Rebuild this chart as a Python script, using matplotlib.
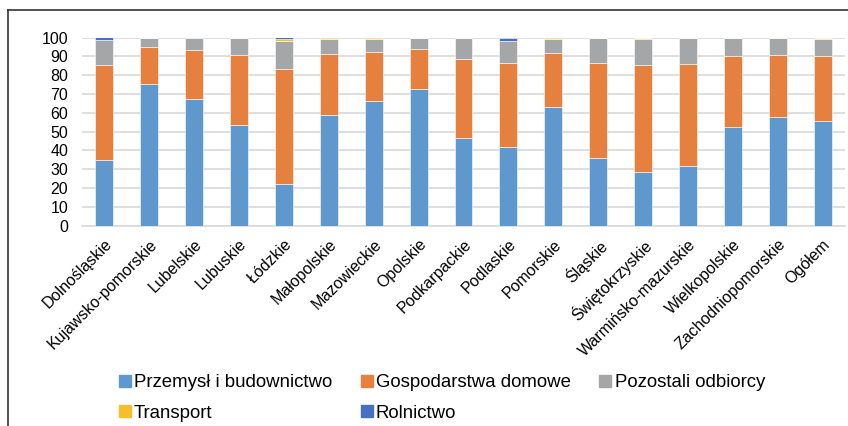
import matplotlib
matplotlib.use("Agg")
import matplotlib.pyplot as plt
import numpy as np
from matplotlib.lines import Line2D

# województwa + ogółem
regions = ["Dolnośląskie", "Kujawsko-pomorskie", "Lubelskie", "Lubuskie", "Łódzkie",
           "Małopolskie", "Mazowieckie", "Opolskie", "Podkarpackie", "Podlaskie",
           "Pomorskie", "Śląskie", "Świętokrzyskie", "Warmińsko-mazurskie",
           "Wielkopolskie", "Zachodniopomorskie", "Ogółem"]

# udziały [%]
przemysl = [34.7, 75.1, 67.1, 53.2, 22.1, 58.7, 66.0, 72.6, 46.8, 41.8, 62.8, 36.1, 28.5, 31.9, 52.5, 57.7, 55.8]
gospodarstwa = [50.7, 19.6, 26.1, 37.4, 61.0, 32.4, 26.5, 21.5, 41.8, 44.9, 29.0, 50.6, 56.7, 54.2, 37.4, 33.1, 34.3]
pozostali = [13.2, 4.9, 6.8, 9.4, 15.3, 8.0, 6.6, 5.5, 10.9, 11.2, 7.3, 12.8, 14.1, 13.5, 9.6, 8.7, 9.2]
transport = [0.3, 0.4, 0.0, 0.0, 0.6, 0.9, 0.9, 0.4, 0.0, 0.4, 0.9, 0.5, 0.7, 0.4, 0.5, 0.5, 0.7]
rolnictwo = [1.1, 0.0, 0.0, 0.0, 1.0, 0.0, 0.0, 0.0, 0.5, 1.7, 0.0, 0.0, 0.0, 0.0, 0.0, 0.0, 0.0]

series = [
    ("Przemysł i budownictwo", przemysl, "#5F98CC"),
    ("Gospodarstwa domowe", gospodarstwa, "#E6803F"),
    ("Pozostali odbiorcy", pozostali, "#A5A6A8"),
    ("Transport", transport, "#F5BE2A"),
    ("Rolnictwo", rolnictwo, "#4471C2"),
]

plt.rcParams["font.family"] = ["Liberation Sans", "DejaVu Sans"]

fig = plt.figure(figsize=(8.48, 4.26), dpi=100)
ax = fig.add_axes([82 / 848, 1 - 225.5 / 426, 763 / 848, 188 / 426])

x = np.arange(len(regions))
bottom = np.zeros(len(regions))
handles = []
for name, vals, col in series:
    vals = np.array(vals)
    ax.bar(x, vals, width=0.4, bottom=bottom, color=col, edgecolor="white",
           linewidth=0.4, zorder=3)
    bottom += vals
    handles.append(Line2D([], [], marker="s", linestyle="none", markersize=8,
                          markerfacecolor=col, markeredgecolor=col, label=name))

ax.set_xlim(-0.5, len(regions) - 0.5)
ax.set_ylim(0, 100)
ax.set_yticks(np.arange(0, 101, 10))
ax.yaxis.grid(True, color="#D9D9D9", linewidth=1.2, zorder=0)
ax.set_axisbelow(True)
for s in ["top", "right", "left"]:
    ax.spines[s].set_visible(False)
ax.spines["bottom"].set_color("#D9D9D9")
ax.spines["bottom"].set_linewidth(1.2)
ax.tick_params(axis="both", length=0, labelsize=11.5, colors="#000000")
ax.tick_params(axis="y", pad=10)
ax.set_xticks(x)
ax.set_xticklabels(regions, rotation=45, ha="right", rotation_mode="anchor")
ax.tick_params(axis="x", pad=8)

# kolejność tak, by wiersze szły jak w oryginale
order = [0, 3, 1, 4, 2]
fig.legend([handles[i] for i in order], [handles[i].get_label() for i in order],
           ncol=3, loc="center", bbox_to_anchor=(441 / 848, 1 - 398 / 426),
           frameon=False, fontsize=13.4, handletextpad=0.1, columnspacing=1.45,
           labelspacing=0.7, handlelength=0.8, borderaxespad=0)

# ramka obszaru wykresu
fig.add_artist(Line2D([7.5 / 848, 7.5 / 848], [0, 1 - 10 / 426], transform=fig.transFigure,
                      color="#333333", linewidth=1.2))
fig.add_artist(Line2D([7.5 / 848, 1], [1 - 10 / 426, 1 - 10 / 426], transform=fig.transFigure,
                      color="#333333", linewidth=1.2))

fig.savefig("out.png", dpi=100)
